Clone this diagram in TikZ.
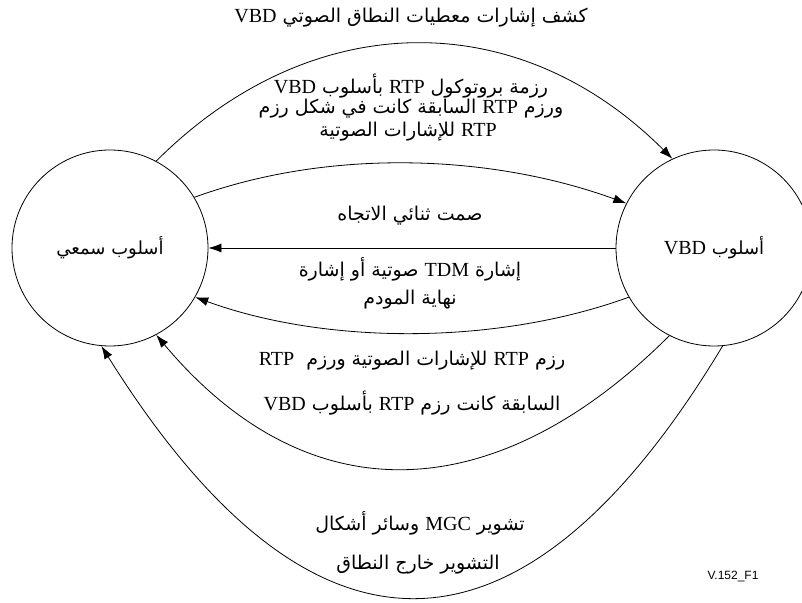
\documentclass[tikz,border=0pt]{standalone}
\usepackage{fontspec}
\usetikzlibrary{arrows.meta}
\TeXXeTstate=1
\newfontfamily\arabicfont[Script=Arabic]{DejaVu Sans}
\newfontfamily\latinfont{Liberation Serif}
\newfontfamily\codefont{Liberation Sans}
% right-to-left line, Latin word inside it
\newcommand{\rl}[1]{\beginR #1\endR}
\newcommand{\la}[1]{{\latinfont\fontsize{20}{22}\selectfont #1}}

\begin{document}
\begin{tikzpicture}[x=1pt,y=1pt,
  state/.style={circle,draw,line width=0.8pt,minimum size=196pt,inner sep=0pt,
    font=\arabicfont\fontsize{18}{22}\selectfont},
  flow/.style={draw,line width=0.8pt,-{Latex[length=13pt,width=9pt]}},
  lbl/.style={inner sep=0pt,font=\arabicfont\fontsize{19}{22}\selectfont},
  tag/.style={inner sep=0pt,font=\codefont\fontsize{12}{14}\selectfont}]
\useasboundingbox (0,0) rectangle (802,602);
\clip (0,0) rectangle (802,602);

% the two modes
\node[state] (aud) at (110,354) {\rl{أسلوب سمعي}};
\node[state] (vbd) at (714,354) {\rl{أسلوب \la{VBD}}};

% transitions
\draw[flow] (aud.62) .. controls +(45:219) and +(135:219) .. (vbd.115);
\draw[flow] (aud.31) .. controls +(20:144) and +(160:144) .. (vbd.153);
\draw[flow] (vbd.180) -- (aud.0);
\draw[flow] (vbd.210) .. controls +(200:140) and +(-20:140) .. (aud.-30);
\draw[flow] (vbd.243) .. controls +(225:241) and +(-50:241) .. (aud.-62);
\draw[flow] (vbd.275) .. controls +(239:393) and +(-58:393) .. (aud.-95);

% transition labels
\node[lbl] (l1) at (411,584) {\rl{كشف إشارات معطيات النطاق الصوتي \la{VBD}}};

\node[lbl] (l2a) at (411,516) {\rl{رزمة بروتوكول \la{RTP} بأسلوب \la{VBD}}};
\node[lbl] (l2b) at (411,493) {\rl{ورزم \la{RTP} السابقة كانت في شكل رزم}};
\node[lbl] (l2c) at (408,470) {\rl{\la{RTP} للإشارات الصوتية}};

\node[lbl] (l3) at (410,386) {\rl{صمت ثنائي الاتجاه}};

\node[lbl] (l4a) at (410,333) {\rl{إشارة \la{TDM} صوتية أو إشارة}};
\node[lbl] (l4b) at (410,302) {\rl{نهاية المودم}};

\node[lbl] (l5a) at (412,241) {\rl{رزم \la{RTP} للإشارات الصوتية ورزم\ \ \la{RTP}}};
\node[lbl] (l5b) at (412,199) {\rl{السابقة كانت رزم \la{RTP} بأسلوب \la{VBD}}};

\node[lbl] (l6a) at (420,79) {\rl{تشوير \la{MGC} وسائر أشكال}};
\node[lbl] (l6b) at (418,37) {\rl{التشوير خارج النطاق}};

\node[tag] (fig) at (733,25) {V.152\_F1};
\end{tikzpicture}
\end{document}
